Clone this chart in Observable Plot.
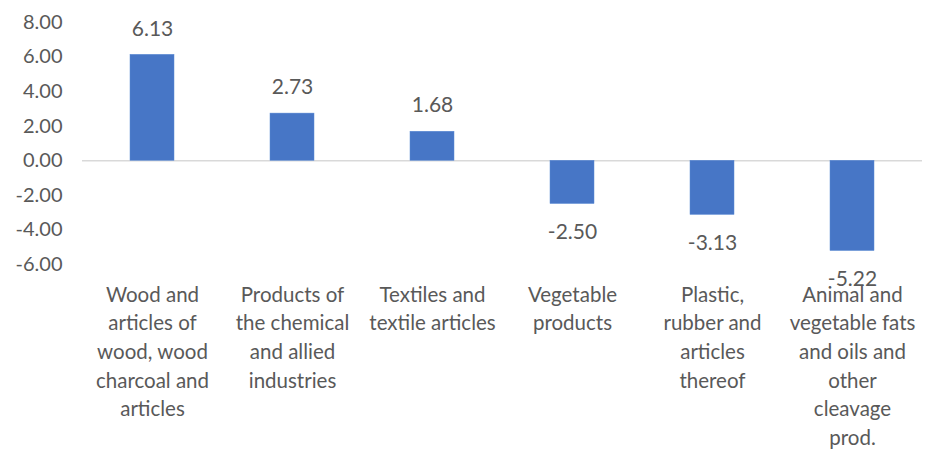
<!DOCTYPE html>
<html>
<head>
<meta charset="utf-8">
<script src="https://cdn.jsdelivr.net/npm/d3@7"></script>
<script src="https://cdn.jsdelivr.net/npm/@observablehq/plot@0.6"></script>
<style>
  html, body { margin: 0; padding: 0; background: #fff; }
</style>
</head>
<body>
<div id="chart"></div>
<script>
const categories = [
  "Wood and\narticles of\nwood, wood\ncharcoal and\narticles",
  "Products of\nthe chemical\nand allied\nindustries",
  "Textiles and\ntextile articles",
  "Vegetable\nproducts",
  "Plastic,\nrubber and\narticles\nthereof",
  "Animal and\nvegetable fats\nand oils and\nother\ncleavage\nprod."
];
const values = [6.13, 2.73, 1.68, -2.50, -3.13, -5.22];
const yTicks = [-6, -4, -2, 0, 2, 4, 6, 8];

const data = categories.map((c, i) => ({category: c, value: values[i]}));
const grey = "#595959";
const font = "Lato, 'Open Sans', sans-serif";

const chart = Plot.plot({
  width: 925,
  height: 457,
  marginLeft: 82,
  marginRight: 3,
  marginTop: 22,
  marginBottom: 193,
  style: {fontFamily: font, color: grey, background: "#fff"},
  x: {domain: categories, paddingInner: 0.686, paddingOuter: 0.343},
  y: {domain: [-6, 8]},
  marks: [
    Plot.ruleY([0], {stroke: "#d9d9d9", strokeWidth: 1.5}),
    Plot.barY(data, {x: "category", y: "value", fill: "#4776c6", stroke: "#5a8ad4", strokeWidth: 0.5}),
    Plot.text(data.filter(d => d.value >= 0), {x: "category", y: "value", text: d => d.value.toFixed(2), dy: -26, fontSize: 21, fill: grey}),
    Plot.text(data.filter(d => d.value < 0), {x: "category", y: "value", text: d => d.value.toFixed(2), dy: 28, fontSize: 21, fill: grey}),
    Plot.axisY({ticks: yTicks, tickFormat: d => d.toFixed(2), tickSize: 0, tickPadding: 20, fontSize: 20, fill: grey, label: null}),
    Plot.axisX({tickSize: 0, tickPadding: 17, fontSize: 20.5, lineHeight: 1.395, fill: grey, label: null, lineAnchor: "top", tickFormat: d => d})
  ]
});
document.getElementById("chart").appendChild(chart);
</script>
</body>
</html>
